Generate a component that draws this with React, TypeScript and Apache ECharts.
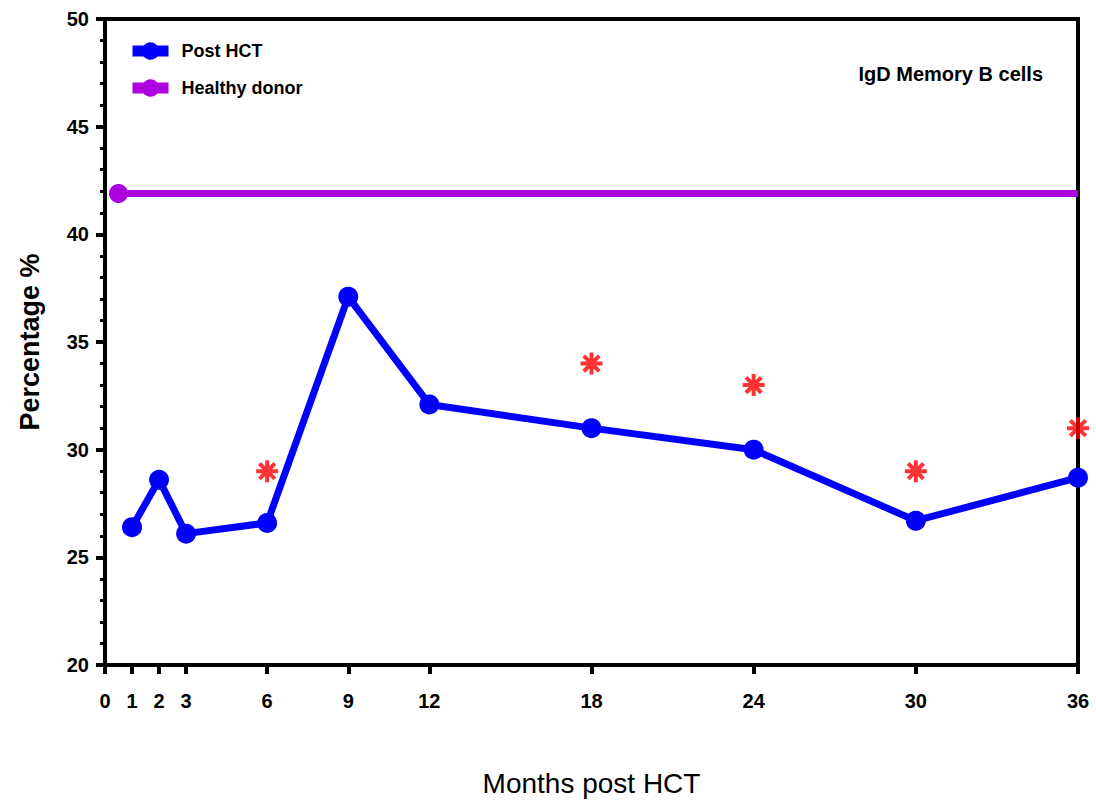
import React, { useEffect, useRef } from "react";
import * as echarts from "echarts";

const months = [1, 2, 3, 6, 9, 12, 18, 24, 30, 36];
const postHct = [26.4, 28.6, 26.1, 26.6, 37.1, 32.1, 31.0, 30.0, 26.7, 28.7];
const starMonths = [6, 18, 24, 30, 36];
const starValues = [29.0, 34.0, 33.0, 29.0, 31.0];
const healthyX = [0.5, 36];
const healthyY = [41.9, 41.9];
const xTicks = [0, 1, 2, 3, 6, 9, 12, 18, 24, 30, 36];

const FONT = "Liberation Sans, Arial, sans-serif";
const ASTERISK = "path://M10 0 L10 20 M0 10 L20 10 M3 3 L17 17 M17 3 L3 17";

export default function App() {
  const ref = useRef<HTMLDivElement>(null);
  useEffect(() => {
    if (!ref.current) return;
    const chart = echarts.init(ref.current, undefined, { renderer: "svg" });
    chart.setOption({
      animation: false,
      backgroundColor: "#fff",
      title: {
        text: "IgD Memory B cells",
        right: 48,
        top: 59,
        textStyle: { fontFamily: FONT, fontWeight: "bold", fontSize: 20, color: "#000" },
      },
      legend: {
        orient: "vertical",
        left: 122,
        top: 37,
        itemWidth: 36,
        itemHeight: 22,
        itemGap: 19,
        data: ["Post HCT", "Healthy donor"],
        lineStyle: { width: 11 },
        textStyle: {
          fontFamily: FONT,
          fontWeight: "bold",
          fontSize: 18,
          color: "#000",
          padding: [0, 0, 0, 8],
        },
      },
      grid: {
        left: 105,
        right: 18,
        top: 19,
        bottom: 137,
        show: true,
        borderColor: "#000",
        borderWidth: 4,
        containLabel: false,
        outerBoundsMode: "none",
      },
      xAxis: {
        type: "value",
        min: 0,
        max: 36,
        name: "Months post HCT",
        nameLocation: "middle",
        nameGap: 104,
        nameTextStyle: { fontFamily: FONT, fontSize: 28, color: "#000" },
        axisLine: { show: true, onZero: false, lineStyle: { color: "#000", width: 4 } },
        axisTick: { show: true, customValues: xTicks, length: 9, lineStyle: { color: "#000", width: 4 } },
        axisLabel: {
          customValues: xTicks,
          margin: 26,
          fontFamily: FONT,
          fontWeight: "bold",
          fontSize: 20,
          color: "#000",
        },
        splitLine: { show: false },
      },
      yAxis: {
        type: "value",
        min: 20,
        max: 50,
        interval: 5,
        name: "Percentage %",
        nameLocation: "middle",
        nameGap: 62,
        nameTextStyle: { fontFamily: FONT, fontWeight: "bold", fontSize: 27, color: "#000" },
        axisLine: { show: true, lineStyle: { color: "#000", width: 4 } },
        axisTick: { show: true, length: 9, lineStyle: { color: "#000", width: 4 } },
        minorTick: { show: true, splitNumber: 5, length: 5, lineStyle: { color: "#000", width: 3 } },
        axisLabel: {
          margin: 16,
          fontFamily: FONT,
          fontWeight: "bold",
          fontSize: 20,
          color: "#000",
        },
        splitLine: { show: false },
      },
      series: [
        {
          name: "Healthy donor",
          type: "line",
          data: healthyX.map((x, i) =>
            i === 0 ? [x, healthyY[i]] : { value: [x, healthyY[i]], symbol: "none" }
          ),
          symbol: "circle",
          symbolSize: 19,
          lineStyle: { color: "#AC00E0", width: 7 },
          itemStyle: { color: "#AC00E0" },
          z: 3,
        },
        {
          name: "Post HCT",
          type: "line",
          data: months.map((m, i) => [m, postHct[i]]),
          symbol: "circle",
          symbolSize: 20,
          lineStyle: { color: "#0000FF", width: 7 },
          itemStyle: { color: "#0000FF" },
          z: 4,
        },
        {
          name: "Significance",
          type: "scatter",
          data: starMonths.map((m, i) => [m, starValues[i]]),
          symbol: ASTERISK,
          symbolSize: 22,
          itemStyle: { color: "#FF0000", borderColor: "#FF0000", borderWidth: 4 },
          z: 5,
        },
      ],
    });
    return () => chart.dispose();
  }, []);
  return <div ref={ref} style={{ width: 1096, height: 802, position: "absolute", left: 0, top: 0 }} />;
}
